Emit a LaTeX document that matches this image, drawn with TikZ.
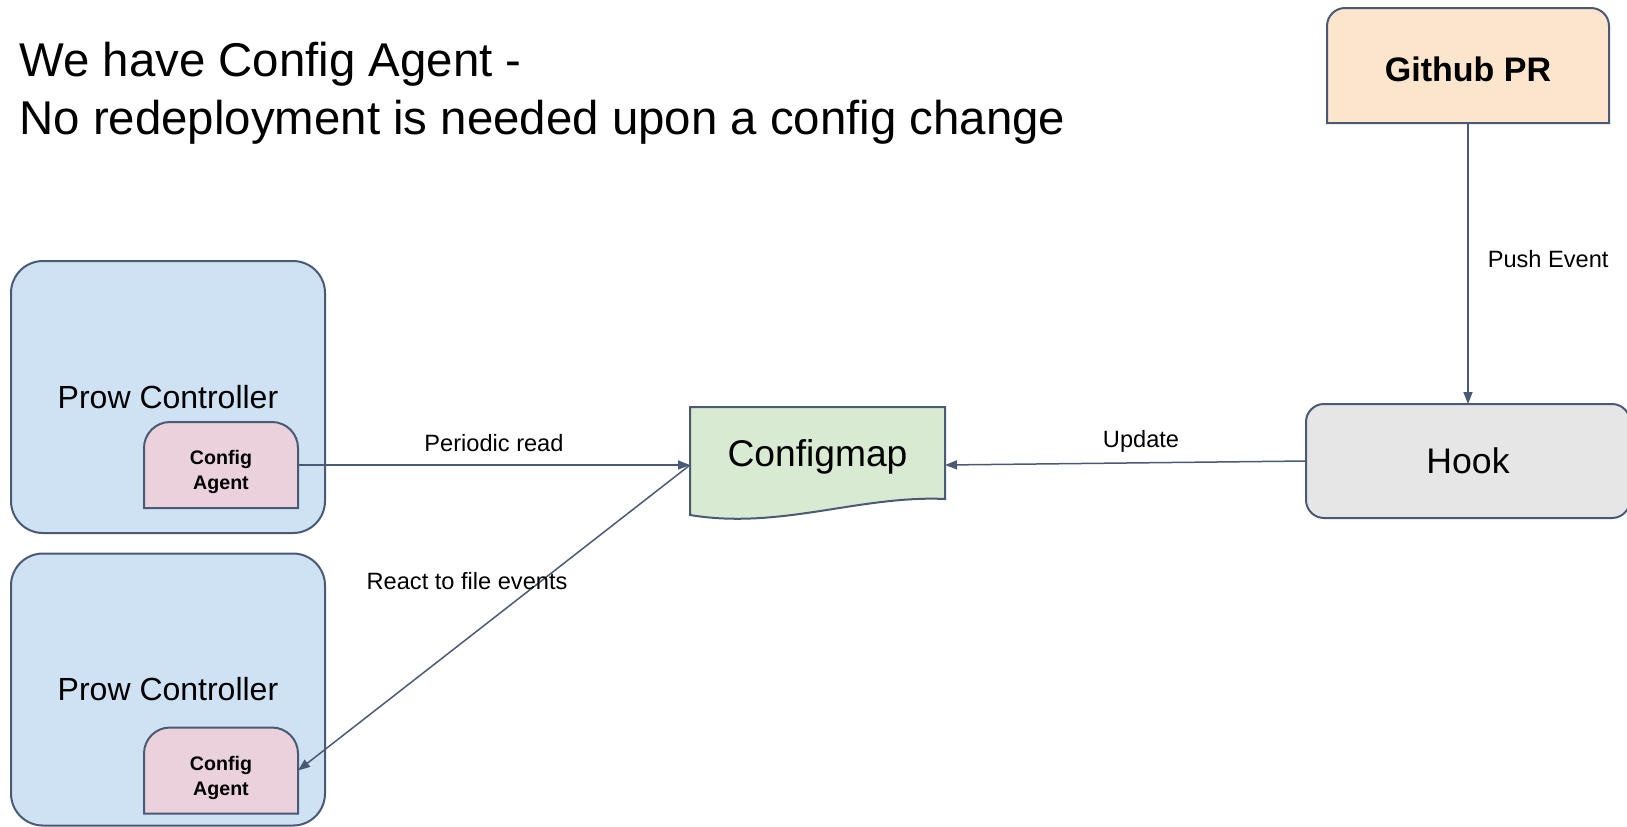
\documentclass[tikz,border=0pt]{standalone}
\usepackage{fontspec}
\setmainfont{Liberation Sans}
\usetikzlibrary{arrows.meta}
\pgfdeclarelayer{back}
\pgfdeclarelayer{mid}
\pgfsetlayers{back,mid,main}
\definecolor{edge}{HTML}{4B5A74}
\definecolor{prowblue}{HTML}{CFE2F3}
\definecolor{agentpink}{HTML}{EAD1DC}
\definecolor{mapgreen}{HTML}{D9EAD3}
\definecolor{prorange}{HTML}{FCE5CD}
\definecolor{hookgrey}{HTML}{E6E6E6}
\tikzset{
  boxline/.style={draw=edge, line width=1pt},
  prow/.style={boxline, fill=prowblue, rounded corners=16pt, minimum width=157pt, minimum height=136pt, font=\fontsize{16}{19}\selectfont},
  agent/.style={inner sep=0pt, outer sep=0pt, minimum width=77pt, minimum height=43pt, align=center, font=\fontsize{9.8}{12.5}\selectfont\bfseries},
  cmap/.style={inner sep=0pt, outer sep=0pt, minimum width=127.5pt, minimum height=46pt, text depth=0pt, font=\fontsize{18.6}{22}\selectfont},
  ghpr/.style={inner sep=0pt, outer sep=0pt, minimum width=141pt, minimum height=57.5pt, text height=16.2pt, text depth=0pt, font=\fontsize{17}{20}\selectfont\bfseries},
  hookbox/.style={boxline, fill=hookgrey, rounded corners=9pt, outer sep=0pt, minimum width=162pt, minimum height=57pt, text depth=0pt, font=\fontsize{17.8}{21}\selectfont},
  flow/.style={draw=edge, line width=0.75pt, -{Triangle[length=6pt,width=4.5pt]}},
  lbl/.style={inner sep=0pt, text depth=0pt, font=\fontsize{11.8}{14}\selectfont},
}
\begin{document}
\begin{tikzpicture}[x=0.5pt, y=-0.5pt]
\useasboundingbox (0,0) rectangle (1627,826);
\node[anchor=north west, inner sep=0pt, align=left, font=\fontsize{23.7}{29}\selectfont] (title) at (19,42) {We have Config Agent -\\No redeployment is needed upon a config change};
\begin{pgfonlayer}{back}
\node[prow] (pc1) at (168,397) {Prow Controller};
\node[prow] (pc2) at (168,689.5) {Prow Controller};
\end{pgfonlayer}
\node[agent] (ca1) at (221,465) {\rule{0pt}{14.5pt}Config\\Agent};
\node[agent] (ca2) at (221,770.5) {\rule{0pt}{14.5pt}Config\\Agent};
\node[cmap] (cm) at (817.5,453) {Configmap};
\node[ghpr] (gh) at (1468,65.5) {Github PR};
\node[hookbox] (hook) at (1468,461) {Hook};
\begin{pgfonlayer}{mid}
\foreach \n in {ca1,ca2}
  \draw[boxline, fill=agentpink] (\n.south west) [rounded corners=13pt] -- (\n.north west) -- (\n.north east) [sharp corners] -- (\n.south east) -- cycle;
\draw[boxline, fill=prorange] (gh.south west) [rounded corners=9pt] -- (gh.north west) -- (gh.north east) [sharp corners] -- (gh.south east) -- cycle;
\draw[boxline, fill=mapgreen] ([yshift=-8pt]cm.south west) -- (cm.north west) -- (cm.north east) -- (cm.south east)
  .. controls ([xshift=-42.5pt,yshift=2pt]cm.south east) and ([xshift=45pt,yshift=-15.5pt]cm.south west) .. ([yshift=-8pt]cm.south west) -- cycle;
\end{pgfonlayer}
\draw[flow] (ca1.east) -- node[lbl, above=6.6pt] (lread) {Periodic read} (ca1.east -| cm.west);
\draw[flow] (ca1.east -| cm.west) -- node[lbl, pos=0.381, xshift=-36.8pt] (lreact) {React to file events} (ca2.east);
\draw[flow] (hook.west) -- node[lbl, pos=0.457, above=7.5pt] (lupd) {Update} (ca1.east -| cm.east);
\draw[flow] (gh.south) -- node[lbl, pos=0.485, right=9.5pt] (lpush) {Push Event} (hook.north);
\end{tikzpicture}
\end{document}
